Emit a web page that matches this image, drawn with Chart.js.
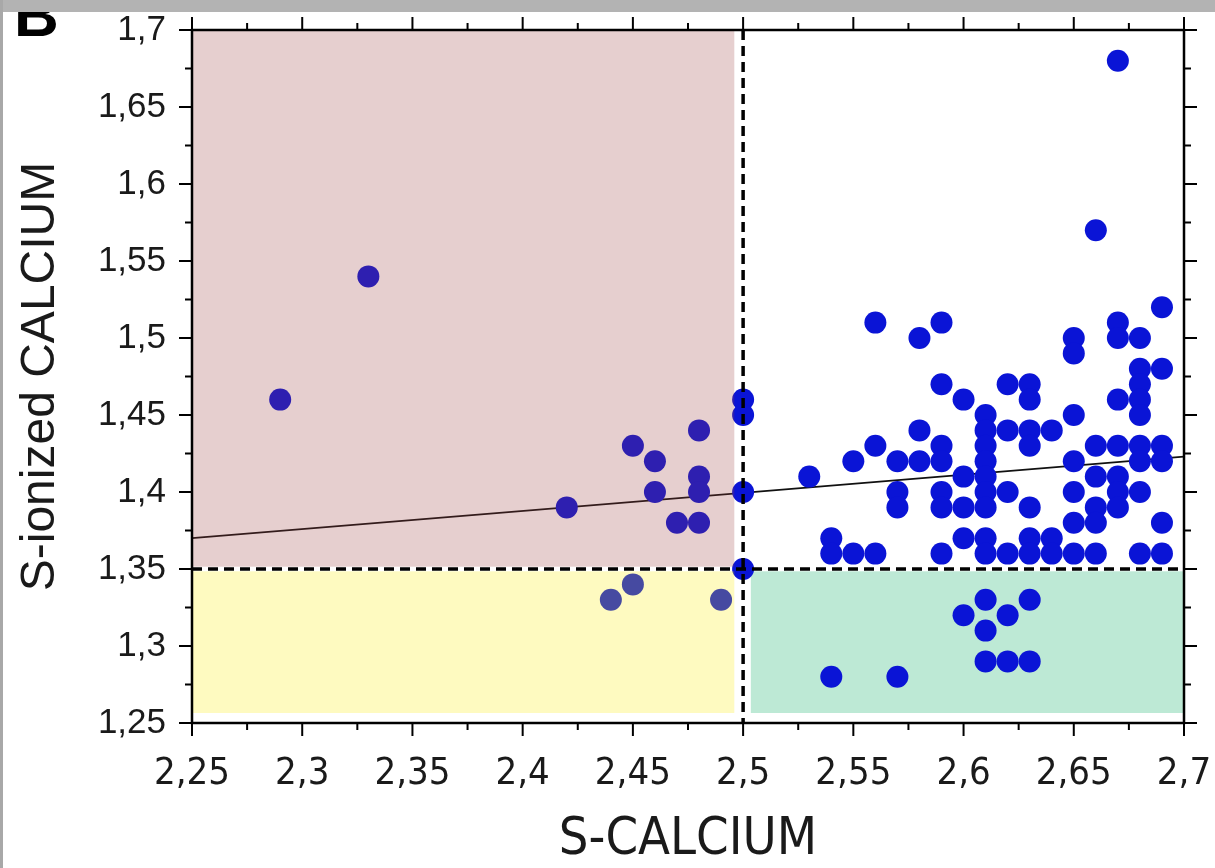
<!DOCTYPE html>
<html>
<head>
<meta charset="utf-8">
<title>S-CALCIUM / S-ionized CALCIUM</title>
<script src="https://cdn.jsdelivr.net/npm/chart.js@4.4.1/dist/chart.umd.min.js"></script>
<style>
    html, body { margin: 0; padding: 0; background: #fff; }
    canvas { display: block; }
</style>
</head>
<body>
<canvas id="calciumScatter" width="1215" height="868"></canvas>
<script>
// S-calcium (x) and S-ionized calcium (y), one entry per patient
const sCalcium = [
    2.29, 2.33, 2.42, 2.45, 2.46, 2.46, 2.47, 2.48, 2.48, 2.48, 2.48,
    2.50, 2.50, 2.50, 2.50, 2.44, 2.45, 2.49,
    2.53,
    2.54, 2.54, 2.54,
    2.55, 2.55,
    2.56, 2.56, 2.56,
    2.57, 2.57, 2.57, 2.57,
    2.58, 2.58, 2.58,
    2.59, 2.59, 2.59, 2.59, 2.59, 2.59, 2.59,
    2.60, 2.60, 2.60, 2.60, 2.60,
    2.61, 2.61, 2.61, 2.61, 2.61, 2.61, 2.61, 2.61, 2.61, 2.61, 2.61, 2.61,
    2.62, 2.62, 2.62, 2.62, 2.62, 2.62,
    2.63, 2.63, 2.63, 2.63, 2.63, 2.63, 2.63, 2.63, 2.63,
    2.64, 2.64, 2.64,
    2.65, 2.65, 2.65, 2.65, 2.65, 2.65, 2.65,
    2.66, 2.66, 2.66, 2.66, 2.66, 2.66,
    2.67, 2.67, 2.67, 2.67, 2.67, 2.67, 2.67, 2.67,
    2.68, 2.68, 2.68, 2.68, 2.68, 2.68, 2.68, 2.68, 2.68,
    2.69, 2.69, 2.69, 2.69, 2.69, 2.69
];
const sIonized = [
    1.46, 1.54, 1.39, 1.43, 1.42, 1.40, 1.38, 1.44, 1.41, 1.40, 1.38,
    1.46, 1.45, 1.40, 1.35, 1.33, 1.34, 1.33,
    1.41,
    1.37, 1.36, 1.28,
    1.42, 1.36,
    1.51, 1.43, 1.36,
    1.42, 1.40, 1.39, 1.28,
    1.50, 1.44, 1.42,
    1.51, 1.47, 1.43, 1.42, 1.40, 1.39, 1.36,
    1.46, 1.41, 1.39, 1.37, 1.32,
    1.45, 1.44, 1.43, 1.42, 1.41, 1.40, 1.39, 1.37, 1.36, 1.33, 1.31, 1.29,
    1.47, 1.44, 1.40, 1.36, 1.32, 1.29,
    1.47, 1.46, 1.44, 1.43, 1.39, 1.37, 1.36, 1.33, 1.29,
    1.44, 1.37, 1.36,
    1.50, 1.49, 1.45, 1.42, 1.40, 1.38, 1.36,
    1.57, 1.43, 1.41, 1.39, 1.38, 1.36,
    1.68, 1.51, 1.50, 1.46, 1.43, 1.41, 1.40, 1.39,
    1.50, 1.48, 1.47, 1.46, 1.45, 1.43, 1.42, 1.40, 1.36,
    1.52, 1.48, 1.43, 1.42, 1.38, 1.36
];

// regression line end points
const fitCalcium = [2.25, 2.70];
const fitIonized = [1.370, 1.423];

const xTickValues = [2.25, 2.30, 2.35, 2.40, 2.45, 2.50, 2.55, 2.60, 2.65, 2.70];
const xTickLabels = ['2,25', '2,3', '2,35', '2,4', '2,45', '2,5', '2,55', '2,6', '2,65', '2,7'];
const yTickValues = [1.25, 1.30, 1.35, 1.40, 1.45, 1.50, 1.55, 1.60, 1.65, 1.70];
const yTickLabels = ['1,25', '1,3', '1,35', '1,4', '1,45', '1,5', '1,55', '1,6', '1,65', '1,7'];

const BLUE = '#0a14d6';
const INK  = '#1a1a1a';
const NARROW = '"Liberation Sans Narrow", "DejaVu Sans Condensed", sans-serif';

// green zone sits under the dots
const zoneUnder = {
    id: 'zoneUnder',
    beforeDatasetsDraw(chart) {
        const { ctx, scales: { x, y } } = chart;
        ctx.save();
        ctx.fillStyle = '#bde9d5';
        const l = x.getPixelForValue(2.5035), r = x.getPixelForValue(2.70);
        const t = y.getPixelForValue(1.3485), b = y.getPixelForValue(1.2565);
        ctx.fillRect(l, t, r - l, b - t);
        ctx.restore();
    }
};

// pink and yellow zones are washed over the dots, then the dashed cut-offs
const zoneOver = {
    id: 'zoneOver',
    afterDatasetsDraw(chart) {
        const { ctx, chartArea: a, scales: { x, y } } = chart;
        const l = x.getPixelForValue(2.25), r = x.getPixelForValue(2.496);
        ctx.save();
        ctx.fillStyle = 'rgba(155, 63, 63, 0.25)';
        let t = y.getPixelForValue(1.70), b = y.getPixelForValue(1.3515);
        ctx.fillRect(l, t, r - l, b - t);
        ctx.fillStyle = 'rgba(251, 235, 3, 0.25)';
        t = y.getPixelForValue(1.3485); b = y.getPixelForValue(1.2565);
        ctx.fillRect(l, t, r - l, b - t);

        ctx.strokeStyle = '#000';
        ctx.lineWidth = 3.5;
        ctx.setLineDash([10, 6]);
        const cx = x.getPixelForValue(2.5), cy = y.getPixelForValue(1.35);
        ctx.beginPath();
        ctx.moveTo(cx, a.top); ctx.lineTo(cx, a.bottom);
        ctx.moveTo(a.left, cy); ctx.lineTo(a.right, cy);
        ctx.stroke();
        ctx.restore();
    }
};

// box frame with ticks pointing out on all four sides
const frameTicks = {
    id: 'frameTicks',
    afterDraw(chart) {
        const { ctx, chartArea: a, scales: { x, y } } = chart;
        ctx.save();
        ctx.strokeStyle = '#000';
        ctx.lineWidth = 2.5;
        ctx.strokeRect(a.left, a.top, a.right - a.left, a.bottom - a.top);
        ctx.lineWidth = 2;
        ctx.beginPath();
        for (let i = 0; i <= 18; i++) {
            const len = i % 2 ? 7 : 13;
            const px = x.getPixelForValue(2.25 + i * 0.025);
            const py = y.getPixelForValue(1.25 + i * 0.025);
            ctx.moveTo(px, a.bottom); ctx.lineTo(px, a.bottom + len);
            ctx.moveTo(px, a.top);    ctx.lineTo(px, a.top - len);
            ctx.moveTo(a.left, py);   ctx.lineTo(a.left - len, py);
            ctx.moveTo(a.right, py);  ctx.lineTo(a.right + len, py);
        }
        ctx.stroke();

        // panel letter, cut off by the grey strip above it
        ctx.fillStyle = '#000';
        ctx.font = 'bold 62px "Liberation Sans", Arial, sans-serif';
        ctx.textBaseline = 'alphabetic';
        ctx.textAlign = 'left';
        ctx.fillText('B', 14, 36);
        ctx.fillStyle = '#b3b3b3';
        ctx.fillRect(0, 0, chart.width, 12);
        ctx.fillStyle = '#a8a8a8';
        ctx.fillRect(0, 0, 3, chart.height);
        ctx.restore();
    }
};

new Chart(document.getElementById('calciumScatter'), {
    data: {
        datasets: [
            {
                type: 'scatter',
                label: 'Patients',
                data: sCalcium.map((v, i) => ({ x: v, y: sIonized[i] })),
                backgroundColor: BLUE,
                borderWidth: 0,
                pointRadius: 11,
                pointHoverRadius: 11,
                order: 1,
            },
            {
                type: 'line',
                label: 'Regression',
                data: fitCalcium.map((v, i) => ({ x: v, y: fitIonized[i] })),
                borderColor: '#111',
                borderWidth: 1.8,
                pointRadius: 0,
                fill: false,
                order: 2,
            }
        ]
    },
    options: {
        responsive: false,
        animation: false,
        devicePixelRatio: 1,
        layout: { padding: { top: 30, right: 31, left: 0, bottom: 0 } },
        plugins: {
            legend: { display: false },
            tooltip: { enabled: false }
        },
        scales: {
            x: {
                type: 'linear',
                min: 2.25,
                max: 2.7,
                afterFit: s => { s.height = 145; s.paddingLeft = 0; s.paddingRight = 0; },
                afterBuildTicks: s => { s.ticks = xTickValues.map(v => ({ value: v })); },
                grid: { display: false, drawTicks: false },
                border: { display: false },
                ticks: {
                    padding: 28,
                    color: INK,
                    maxRotation: 0,
                    autoSkip: false,
                    font: { family: NARROW, size: 38 },
                    callback: (v, i) => xTickLabels[i]
                },
                title: {
                    display: true,
                    text: 'S-CALCIUM',
                    color: INK,
                    font: { family: NARROW, size: 52, lineHeight: 1 },
                    padding: { top: 0, bottom: 2 }
                }
            },
            y: {
                type: 'linear',
                min: 1.25,
                max: 1.7,
                afterFit: s => { s.width = 192; s.paddingTop = 0; s.paddingBottom = 0; },
                afterBuildTicks: s => { s.ticks = yTickValues.map(v => ({ value: v })); },
                grid: { display: false, drawTicks: false },
                border: { display: false },
                ticks: {
                    padding: 26,
                    color: INK,
                    autoSkip: false,
                    font: { family: '"Liberation Sans", Arial, sans-serif', size: 35 },
                    callback: (v, i) => yTickLabels[i]
                },
                title: {
                    display: true,
                    text: 'S-ionized CALCIUM',
                    color: INK,
                    font: { family: '"Liberation Sans", Arial, sans-serif', size: 48, lineHeight: 1.2 },
                    padding: { top: 12, bottom: 0 }
                }
            }
        }
    },
    plugins: [zoneUnder, zoneOver, frameTicks]
});
</script>
</body>
</html>
